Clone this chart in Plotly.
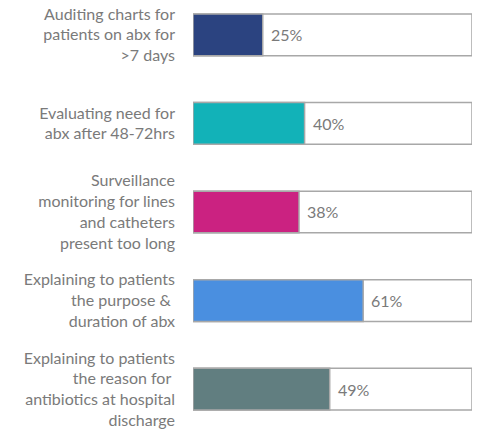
import plotly.graph_objects as go

labels = [
    "Auditing charts for<br>patients on abx for<br>>7 days",
    "Evaluating need for<br>abx after 48-72hrs",
    "Surveillance<br>monitoring for lines<br>and catheters<br>present too long",
    "Explaining to patients<br>the purpose & <br>duration of abx",
    "Explaining to patients<br>the reason for <br>antibiotics at hospital<br>discharge",
]
values = [25, 40, 38, 61, 49]
totals = [100, 100, 100, 100, 100]
colors = ['#2B4380', '#12B2B8', '#CB2281', '#4A8FE0', '#617E80']

text_color = '#7A7A7A'

fig = go.Figure()

# white "track" behind each bar
fig.add_trace(go.Bar(
    y=labels, x=totals, orientation='h', width=0.47,
    marker=dict(color='white', line=dict(color='#A8A8A8', width=1.5)),
    hoverinfo='skip', showlegend=False, cliponaxis=False
))

fig.add_trace(go.Bar(
    y=labels, x=values, orientation='h', width=0.47,
    marker=dict(color=colors, line=dict(color='#A8A8A8', width=1.5)),
    showlegend=False, cliponaxis=False
))

for lab, v in zip(labels, values):
    fig.add_annotation(
        x=v, y=lab, text=f"{v}%", showarrow=False,
        xanchor='left', xshift=6,
        font=dict(size=16, color=text_color, family='Lato')
    )

fig.update_layout(
    width=482, height=429,
    barmode='overlay',
    margin=dict(l=193, r=10, t=0, b=0),
    paper_bgcolor='white', plot_bgcolor='white',
    font=dict(family='Lato', size=16, color=text_color),
    xaxis=dict(range=[0, 100], visible=False, fixedrange=True),
    yaxis=dict(
        type='category', autorange=False,
        range=[4.427, -0.393],
        showgrid=False, zeroline=False, showline=False,
        ticks='', ticklabelstandoff=17, fixedrange=True,
        tickfont=dict(size=16, color=text_color, family='Lato'),
    ),
)

fig.write_html("out.html", config={'displayModeBar': False},
               post_script="document.body.style.margin='0px';")
